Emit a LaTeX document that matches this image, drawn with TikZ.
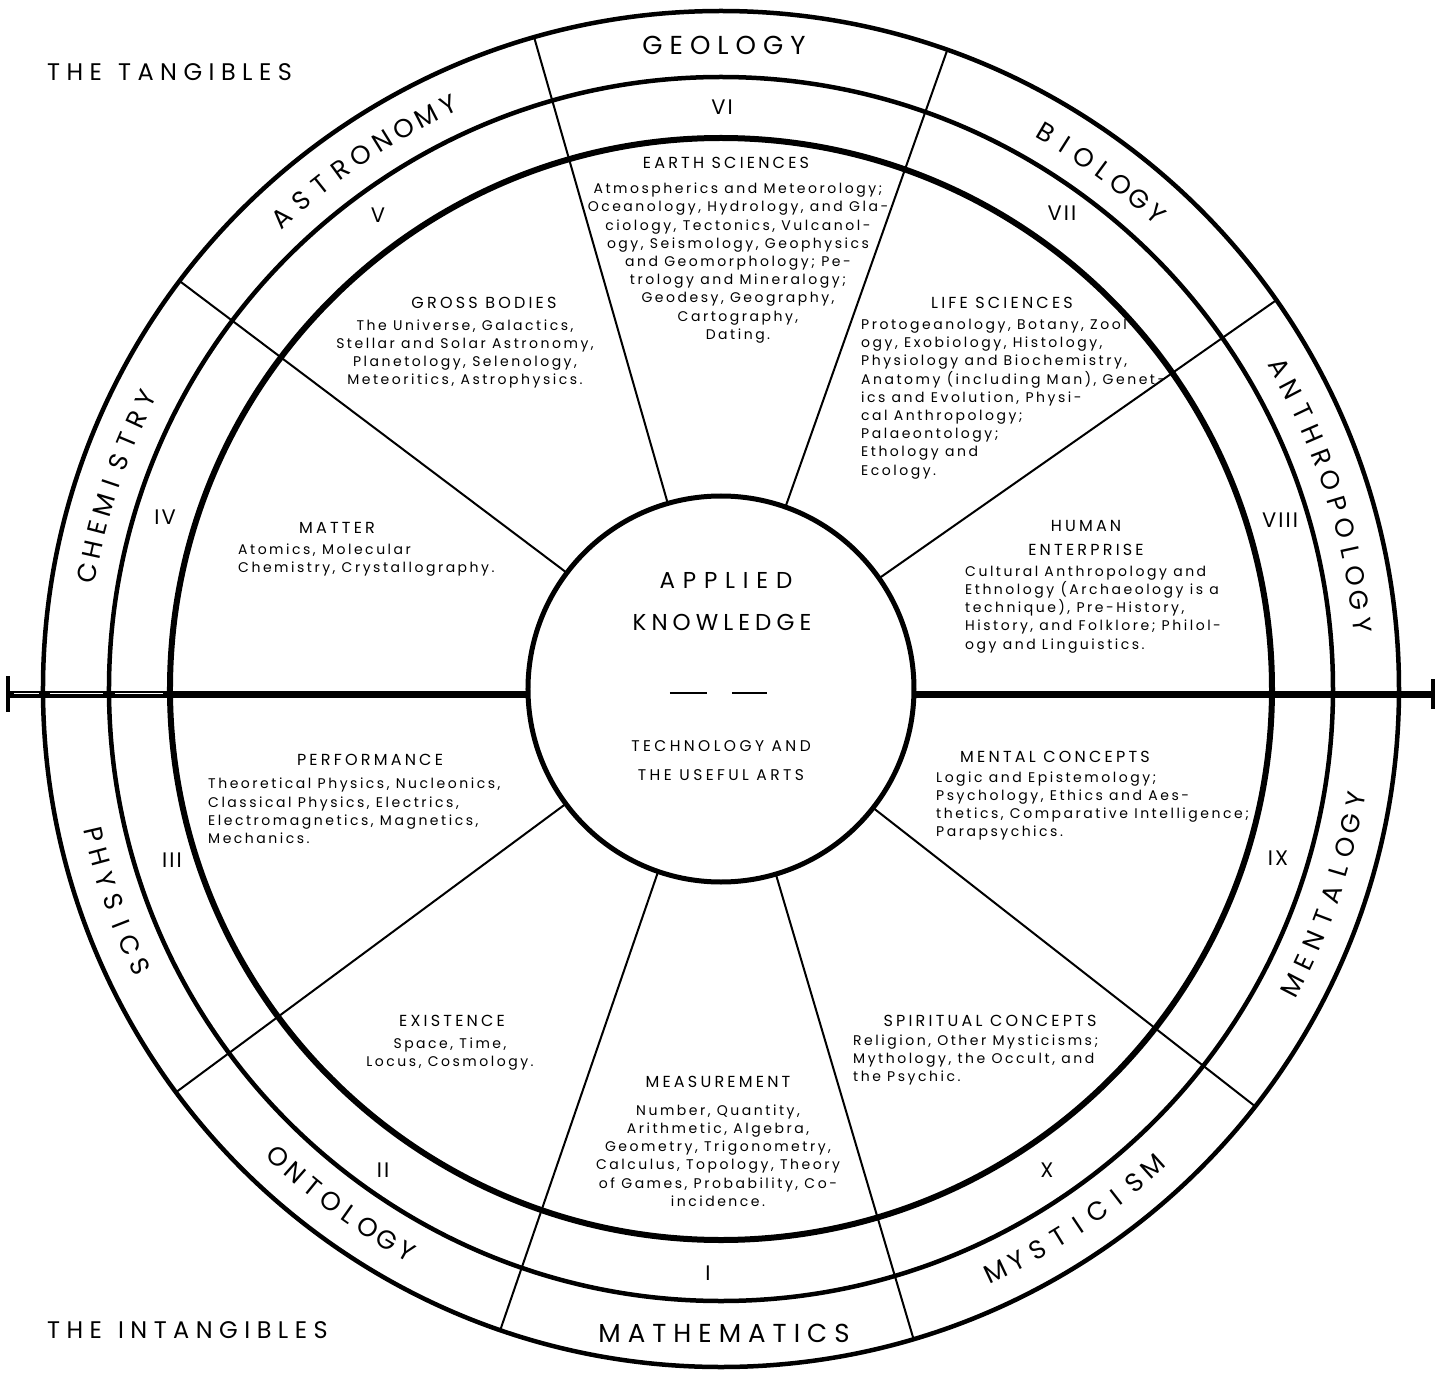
\documentclass[tikz,border=0pt]{standalone}
\usepackage{fontspec}
\setmainfont{Poppins}
\newfontfamily\bodyf{Poppins}[LetterSpace=18]
\newfontfamily\headf{Poppins}[LetterSpace=20]
\newfontfamily\ringf{Poppins}[LetterSpace=27]
\newfontfamily\arcf{Poppins}
\newfontfamily\numf{Poppins}[LetterSpace=10]
\newfontfamily\coref{Poppins}[LetterSpace=22]
\newfontfamily\appf{Poppins}[LetterSpace=34]
\newfontfamily\cornerf{Poppins}[LetterSpace=27]

\tikzset{
  ringline/.style={line width=4.5pt},
  innerline/.style={line width=6pt},
  coreline/.style={line width=5pt},
  spoke/.style={line width=2pt},
  axisline/.style={line width=7pt},
  ringlabel/.style={font=\ringf\fontsize{26}{26}\selectfont, inner sep=0pt},
  arclabel/.style={font=\arcf\fontsize{26}{26}\selectfont, inner sep=0pt},
  numeral/.style={font=\numf\fontsize{21}{21}\selectfont, inner sep=0pt},
  head/.style={font=\headf\fontsize{16}{24}\selectfont, inner sep=0pt, align=center},
  body/.style={font=\bodyf\fontsize{14}{18.2}\selectfont, inner sep=0pt, align=left},
  bodyc/.style={body, align=center},
  coretext/.style={font=\coref\fontsize{23}{23}\selectfont, inner sep=0pt},
  coresmall/.style={font=\coref\fontsize{15.5}{15.5}\selectfont, inner sep=0pt},
  corner/.style={font=\cornerf\fontsize{24}{24}\selectfont, inner sep=0pt, anchor=west},
}

% #1 name, #2 centre angle, #3 step, #4 count, #5 letters (top half, read clockwise)
\newcommand\toparc[5]{%
  \foreach \ch [count=\i] in {#5}{%
    \pgfmathsetmacro\ang{#2+((#4+1)/2-\i)*#3}%
    \node[arclabel, rotate=\ang-90] (#1-\i) at (\ang:644) {\ch};
  }}
% bottom half, read counter-clockwise
\newcommand\botarc[5]{%
  \foreach \ch [count=\i] in {#5}{%
    \pgfmathsetmacro\ang{#2-((#4+1)/2-\i)*#3}%
    \node[arclabel, rotate=\ang+90] (#1-\i) at (\ang:644) {\ch};
  }}

\begin{document}
\begin{tikzpicture}[x=1pt,y=1pt]
\useasboundingbox (-721,-685) rectangle (725,689);
\fill[white] (-721,-685) rectangle (725,689);

% spokes
\foreach \a in {35,70.5,106,143,216.5,251,286.5,322}
  \draw[spoke] (\a:193) -- (\a:678);

% horizontal axis
\draw[axisline] (-713,-5) -- (-192,-5);
\draw[axisline] (192,-5) -- (712,-5);
\draw[white, line width=1.2pt] (-707,-4.5) -- (-682,-4.5);
\draw[white, line width=1.2pt] (-671,-4.5) -- (-618,-4.5);
\draw[white, line width=1.2pt] (-606,-4.5) -- (-558,-4.5);
\draw[line width=3.5pt] (-713,13) -- (-713,-23);
\draw[line width=3.5pt] (712,10) -- (712,-20);

% circles
\draw[ringline] (0,0) circle (678);
\draw[ringline] (0,0) circle (612);
\draw[innerline] (0,0) circle (551);
\draw[coreline, fill=white] (0,0) circle (193);

% corner titles
\node[corner] (tang) at (-674,617) {THE\hspace{16pt}TANGIBLES};
\node[corner] (intang) at (-674,-641) {THE\hspace{16pt}INTANGIBLES};

% outer ring labels
\node[ringlabel] (geology) at (3,644) {GEOLOGY};
\node[ringlabel] (mathematics) at (3,-644) {MATHEMATICS};
\toparc{astro}{124}{2.24}{9}{A,S,T,R,O,N,O,M,Y}
\toparc{bio}{53.6}{2.03}{7}{B,I,O,L,O,G,Y}
\toparc{anthro}{17.8}{2.2}{12}{A,N,T,H,R,O,P,O,L,O,G,Y}
\toparc{chem}{161.4}{2.05}{9}{C,H,E,M,I,S,T,R,Y}
\botarc{phys}{199.3}{2.08}{7}{P,H,Y,S,I,C,S}
\botarc{onto}{233.7}{2.03}{8}{O,N,T,O,L,O,G,Y}
\botarc{myst}{-56.3}{2.1}{9}{M,Y,S,T,I,C,I,S,M}
\botarc{ment}{-18.6}{2.19}{9}{M,E,N,T,A,L,O,G,Y}

% numerals
\node[numeral] (nV) at (-343,474) {V};
\node[numeral] (nVI) at (1,582) {VI};
\node[numeral] (nVII) at (341,476) {VII};
\node[numeral] (nVIII) at (559,169) {VIII};
\node[numeral] (nIX) at (557,-169) {IX};
\node[numeral] (nX) at (326,-481) {X};
\node[numeral] (nI) at (-13,-584) {I};
\node[numeral] (nII) at (-338,-481) {II};
\node[numeral] (nIII) at (-549,-171) {III};
\node[numeral] (nIV) at (-556,172) {IV};

% centre
\node[coretext, font=\appf\fontsize{23}{23}\selectfont] (applied) at (5,109) {APPLIED};
\node[coretext] (knowledge) at (1,67) {KNOWLEDGE};
\draw[line width=2.5pt] (-51,-4) -- (-14,-4);
\draw[line width=2.5pt] (11,-4) -- (46,-4);
\node[coresmall] (tech) at (0,-57) {TECHNOLOGY AND};
\node[coresmall] (useful) at (0,-86) {THE USEFUL ARTS};

% sector texts
\node[head] (earthH) at (5,526) {EARTH SCIENCES};
\node[bodyc] (earthB) at (17,426) {Atmospherics and Meteorology;\\Oceanology, Hydrology, and Gla-\\ciology, Tectonics, Vulcanol-\\ogy, Seismology, Geophysics\\and Geomorphology; Pe-\\trology and Mineralogy;\\Geodesy, Geography,\\Cartography,\\Dating.};

\node[head] (grossH) at (-237,386) {GROSS BODIES};
\node[bodyc] (grossB) at (-256,335) {The Universe, Galactics,\\Stellar and Solar Astronomy,\\Planetology, Selenology,\\Meteoritics, Astrophysics.};

\node[head] (lifeH) at (281,386) {LIFE SCIENCES};
\node[body, anchor=west] (lifeB) at (140,290) {Protogeanology, Botany, Zool-\\ogy, Exobiology, Histology,\\Physiology and Biochemistry,\\Anatomy (including Man), Genet-\\ics and Evolution, Physi-\\cal Anthropology;\\Palaeontology;\\Ethology and\\Ecology.};

\node[head] (humanH) at (365,151) {HUMAN\\ENTERPRISE};
\node[body, anchor=west] (humanB) at (244,79.5) {Cultural Anthropology and\\Ethnology (Archaeology is a\\technique), Pre-History,\\History, and Folklore; Philol-\\ogy and Linguistics.};

\node[head] (matterH) at (-384,161) {MATTER};
\node[body, anchor=west] (matterB) at (-483,129) {Atomics, Molecular\\Chemistry, Crystallography.};

\node[head] (perfH) at (-351,-71) {PERFORMANCE};
\node[body, anchor=west] (perfB) at (-513,-122) {Theoretical Physics, Nucleonics,\\Classical Physics, Electrics,\\Electromagnetics, Magnetics,\\Mechanics.};

\node[head] (mentalH) at (334,-68) {MENTAL CONCEPTS};
\node[body, anchor=west] (mentalB) at (215,-117) {Logic and Epistemology;\\Psychology, Ethics and Aes-\\thetics, Comparative Intelligence;\\Parapsychics.};

\node[head] (existH) at (-269,-332) {EXISTENCE};
\node[bodyc] (existB) at (-271,-365) {Space, Time,\\Locus, Cosmology.};

\node[head] (spiritH) at (269,-332) {SPIRITUAL CONCEPTS};
\node[body, anchor=west] (spiritB) at (132,-371) {Religion, Other Mysticisms;\\Mythology, the Occult, and\\the Psychic.};

\node[head] (measH) at (-3,-393) {MEASUREMENT};
\node[bodyc] (measB) at (-3,-466.5) {Number, Quantity,\\Arithmetic, Algebra,\\Geometry, Trigonometry,\\Calculus, Topology, Theory\\of Games, Probability, Co-\\incidence.};
\end{tikzpicture}
\end{document}
